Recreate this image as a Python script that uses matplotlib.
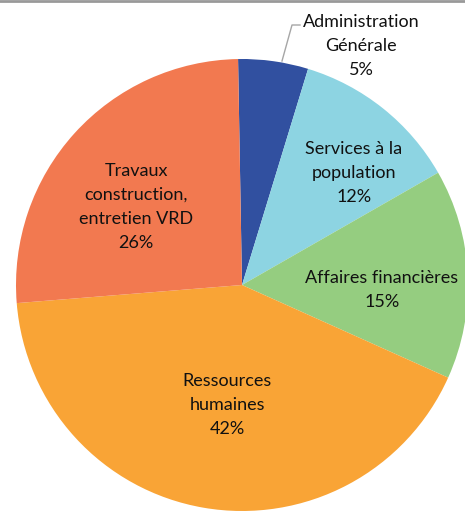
import matplotlib.pyplot as plt
from matplotlib.lines import Line2D

# donnees du graphique
categories = ["Administration\nGénérale", "Services à la\npopulation",
              "Affaires financières", "Ressources\nhumaines",
              "Travaux\nconstruction,\nentretien VRD"]
valeurs = [5, 12, 15, 42, 26]
couleurs = ["#3150A0", "#8DD4E2", "#95CD80", "#F9A436", "#F27950"]

# position des etiquettes (pixels de l'image, y vers le bas)
pos_etiquettes = [(361, 46), (354, 173), (382, 290), (227, 405), (136, 207)]

W, H = 465, 512
fig = plt.figure(figsize=(W / 100, H / 100), dpi=100)
ax = fig.add_axes([0, 0, 1, 1])

ax.pie(valeurs, colors=couleurs, startangle=91, counterclock=False,
       center=(242, H - 285), radius=226, frame=True,
       wedgeprops=dict(linewidth=0))
ax.set_xlim(0, W)
ax.set_ylim(0, H)
ax.set_aspect("equal")
ax.axis("off")

for cat, val, (x, y) in zip(categories, valeurs, pos_etiquettes):
    ax.text(x, H - y, f"{cat}\n{val}%", ha="center", va="center",
            fontsize=13, family="Lato", color="#111111", linespacing=1.63)

# ligne de rappel pour Administration
ax.plot([300, 292, 282], [H - 25, H - 25, H - 61], color="#a6a6a6", lw=1)

# bordure grise en haut
fig.add_artist(Line2D([0, 1], [0.999, 0.999], transform=fig.transFigure,
                      color="#999999", lw=2))

fig.savefig("out.png", dpi=100)
